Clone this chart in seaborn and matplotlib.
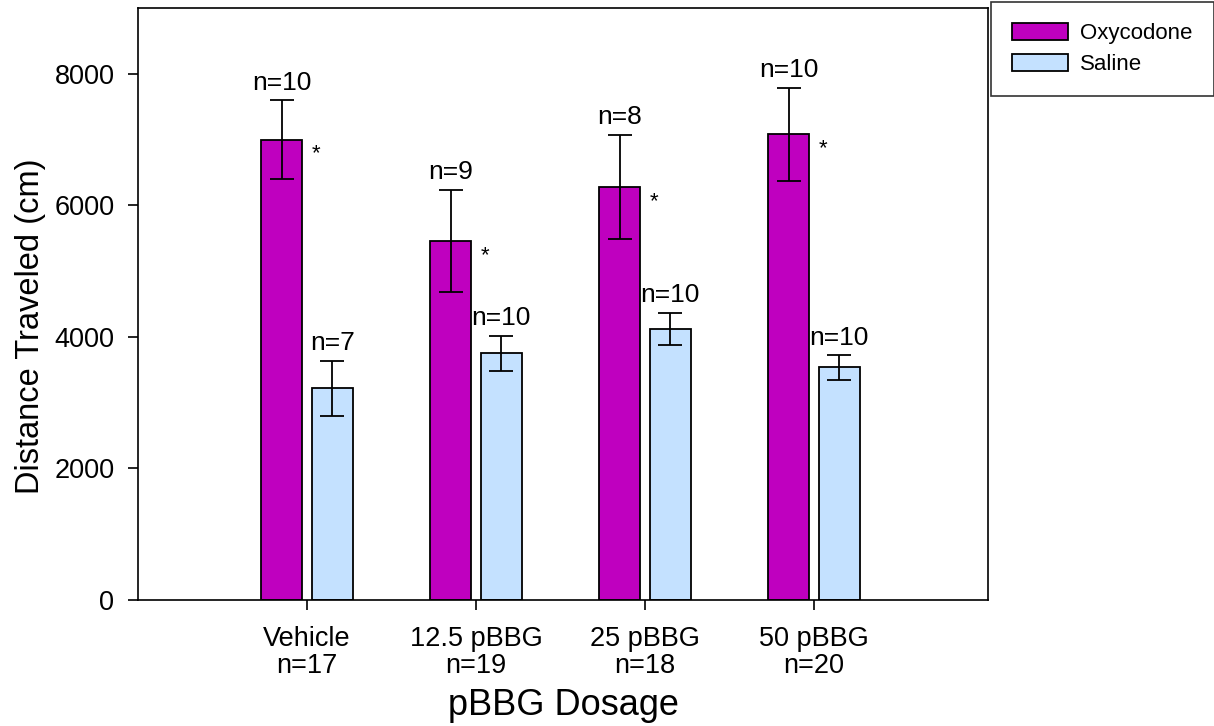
import numpy as np
import pandas as pd
import matplotlib
matplotlib.use("Agg")
import matplotlib.pyplot as plt
import seaborn as sns
from matplotlib.patches import Patch

# ---- data ----
categories = ["Vehicle", "12.5 pBBG", "25 pBBG", "50 pBBG"]
group_n = ["n=17", "n=19", "n=18", "n=20"]
treatments = ["Oxycodone", "Saline"]
oxy_mean = [7000, 5460, 6280, 7080]
oxy_sem = [600, 780, 790, 705]
oxy_n = ["n=10", "n=9", "n=8", "n=10"]
sal_mean = [3215, 3750, 4120, 3535]
sal_sem = [425, 270, 245, 185]
sal_n = ["n=7", "n=10", "n=10", "n=10"]
significant = [True, True, True, True]

colors = {"Oxycodone": "#BF00BF", "Saline": "#C4E1FF"}

df = pd.DataFrame({
    "dose": categories * 2,
    "treatment": ["Oxycodone"] * 4 + ["Saline"] * 4,
    "mean": oxy_mean + sal_mean,
})

sns.set_style("ticks")
plt.rcParams["font.family"] = ["Liberation Sans", "DejaVu Sans"]
plt.rcParams.update({"text.color": "black", "axes.labelcolor": "black",
                     "xtick.color": "black", "ytick.color": "black"})

fig = plt.figure(figsize=(12.14, 7.26), dpi=100)
ax = fig.add_axes([0.1137, 0.1736, 0.7001, 0.8154])

sns.barplot(data=df, x="dose", y="mean", hue="treatment", order=categories,
            hue_order=treatments, palette=colors, width=0.6, gap=0.2,
            edgecolor="black", linewidth=1.3, saturation=1, errorbar=None,
            legend=False, ax=ax)

sems = {"Oxycodone": oxy_sem, "Saline": sal_sem}
means = {"Oxycodone": oxy_mean, "Saline": sal_mean}
nlabels = {"Oxycodone": oxy_n, "Saline": sal_n}

for cont, t in zip(ax.containers, treatments):
    for i, bar in enumerate(cont.patches):
        xc = bar.get_x() + bar.get_width() / 2
        m = means[t][i]
        s = sems[t][i]
        ax.errorbar(xc, m, yerr=s, fmt="none", ecolor="black", elinewidth=1.3,
                    capsize=8.5, capthick=1.3, zorder=5)
        ax.annotate(nlabels[t][i], (xc, m + s), xytext=(0, 4),
                    textcoords="offset points", ha="center", va="bottom",
                    fontsize=19)
        if t == "Oxycodone" and significant[i]:
            ax.annotate("*", (bar.get_x() + bar.get_width(), m), xytext=(10, -18),
                        textcoords="offset points", ha="center", va="bottom",
                        fontsize=16)

ax.set_xlim(-1, 4.03)
ax.set_ylim(0, 9000)
ax.set_yticks([0, 2000, 4000, 6000, 8000])
ax.set_xticks(range(len(categories)))
ax.set_xticklabels([f"{c}\n{n}" for c, n in zip(categories, group_n)],
                   linespacing=1.05)
ax.tick_params(axis="both", direction="out", length=7, width=1.2,
               labelsize=19.5, color="black")
ax.tick_params(axis="y", pad=10)
ax.tick_params(axis="x", pad=12)
for sp in ax.spines.values():
    sp.set_visible(True)
    sp.set_linewidth(1.2)
    sp.set_color("black")

ax.set_xlabel("pBBG Dosage", fontsize=26, labelpad=6)
ax.set_ylabel("Distance Traveled (cm)", fontsize=23.5)
ax.yaxis.set_label_coords(-0.108, 0.462)

handles = [Patch(facecolor=colors[t], edgecolor="black", linewidth=1.3, label=t)
           for t in treatments]
leg = fig.legend(handles=handles, loc="upper left",
                 bbox_to_anchor=(0.8165, 0.997), frameon=True, fancybox=False,
                 fontsize=16, handlelength=2.5, handleheight=0.75,
                 borderpad=0.95, labelspacing=0.45, handletextpad=0.55,
                 borderaxespad=0)
leg.get_frame().set_edgecolor("black")
leg.get_frame().set_linewidth(1.2)

fig.savefig("out.png", dpi=100)
